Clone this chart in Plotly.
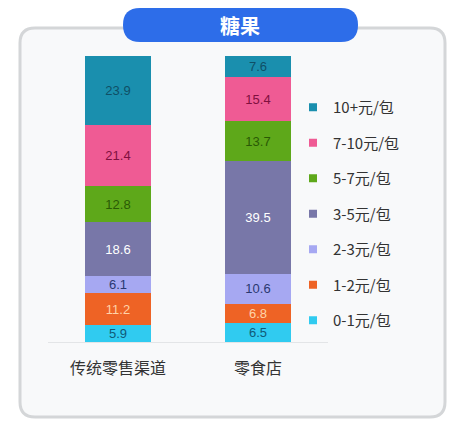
import plotly.graph_objects as go

W, H = 467, 430
OFF = 8  # page body margin of the html output

channels = ["传统零售渠道", "零食店"]
price_bands = ["0-1元/包", "1-2元/包", "2-3元/包", "3-5元/包", "5-7元/包", "7-10元/包", "10+元/包"]
shares = {
    "0-1元/包": [5.9, 6.5],
    "1-2元/包": [11.2, 6.8],
    "2-3元/包": [6.1, 10.6],
    "3-5元/包": [18.6, 39.5],
    "5-7元/包": [12.8, 13.7],
    "7-10元/包": [21.4, 15.4],
    "10+元/包": [23.9, 7.6],
}
bar_colors = ["#30cbf0", "#ee6325", "#a6a8f2", "#7877a8", "#5ea81a", "#ef5b94", "#1a8fae"]
text_colors = ["#0f5a78", "#ffd3a8", "#2a3870", "#ffffff", "#2a5a05", "#80103f", "#0f4f66"]

FONT = "Noto Sans CJK SC, Microsoft YaHei, sans-serif"
NUM_FONT = "Liberation Sans, Arial, sans-serif"

FW, FH = W - OFF, H - OFF


def px_x(x):
    return (x - OFF) / FW


def px_y(y):
    return 1 - (y - OFF) / FH


def rounded_rect(x0, y0, x1, y1, r):
    # path in paper coords from pixel box
    pts = [
        f"M{px_x(x0 + r)},{px_y(y0)}",
        f"L{px_x(x1 - r)},{px_y(y0)}",
        f"Q{px_x(x1)},{px_y(y0)} {px_x(x1)},{px_y(y0 + r)}",
        f"L{px_x(x1)},{px_y(y1 - r)}",
        f"Q{px_x(x1)},{px_y(y1)} {px_x(x1 - r)},{px_y(y1)}",
        f"L{px_x(x0 + r)},{px_y(y1)}",
        f"Q{px_x(x0)},{px_y(y1)} {px_x(x0)},{px_y(y1 - r)}",
        f"L{px_x(x0)},{px_y(y0 + r)}",
        f"Q{px_x(x0)},{px_y(y0)} {px_x(x0 + r)},{px_y(y0)}",
        "Z",
    ]
    return " ".join(pts)


fig = go.Figure()

for i, band in enumerate(price_bands):
    fig.add_trace(
        go.Bar(
            x=channels,
            y=shares[band],
            name=band,
            marker={"color": bar_colors[i], "line": {"width": 0}},
            text=[f"{v:.1f}" for v in shares[band]],
            textposition="inside",
            insidetextanchor="middle",
            textangle=0,
            textfont={"color": text_colors[i], "size": 13, "family": NUM_FONT},
            showlegend=False,
            hoverinfo="skip",
        )
    )

# legend entries (top = 10+)
for i, band in reversed(list(enumerate(price_bands))):
    fig.add_trace(
        go.Scatter(
            x=[None],
            y=[None],
            mode="markers",
            marker={"symbol": "square", "size": 8, "color": bar_colors[i]},
            name=band,
            legendgroup=band,
            showlegend=True,
        )
    )

shapes = [
    # card with grey shadow border
    dict(type="path", xref="paper", yref="paper", layer="below",
         path=rounded_rect(20, 28, 445, 417, 15),
         fillcolor="#f8f9fa", line={"color": "#d4d6d8", "width": 3}),
    # title pill
    dict(type="path", xref="paper", yref="paper", layer="below",
         path=rounded_rect(123, 8, 358, 42, 17),
         fillcolor="#2d6de9", line={"width": 0}),
]

fig.update_layout(
    width=FW,
    height=FH,
    barmode="stack",
    bargap=0.53,
    margin={"l": 0, "r": 0, "t": 0, "b": 0},
    paper_bgcolor="#ffffff",
    plot_bgcolor="rgba(0,0,0,0)",
    font={"family": FONT, "color": "#333333"},
    shapes=shapes,
    annotations=[
        dict(text="<b>糖果</b>", x=px_x(240), y=px_y(25), xref="paper", yref="paper",
             xanchor="center", yanchor="middle", showarrow=False,
             font={"size": 20, "color": "#ffffff", "family": FONT}),
    ],
    xaxis={
        "domain": [px_x(48), px_x(328)],
        "showline": True,
        "linecolor": "#e3e5e7",
        "linewidth": 1,
        "ticks": "outside",
        "ticklen": 12,
        "tickcolor": "rgba(0,0,0,0)",
        "tickfont": {"size": 16, "color": "#333333"},
        "showgrid": False,
        "fixedrange": True,
    },
    yaxis={
        "domain": [px_y(342), px_y(56)],
        "range": [0, 100],
        "visible": False,
        "showgrid": False,
        "zeroline": False,
    },
    legend={
        "x": px_x(293),
        "xanchor": "left",
        "y": px_y(91),
        "yanchor": "top",
        "font": {"size": 15, "color": "#333333", "family": FONT},
        "tracegroupgap": 13,
        "bgcolor": "rgba(0,0,0,0)",
        "itemwidth": 30,
    },
    uniformtext={"mode": "show", "minsize": 13},
)

fig.write_html("out.html")
